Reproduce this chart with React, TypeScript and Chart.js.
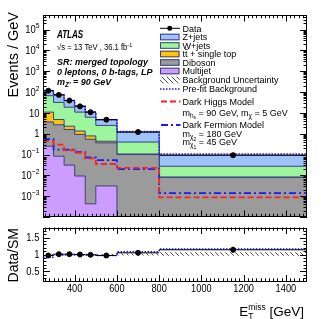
import React, { useEffect, useRef } from 'react';
import { Chart, registerables } from 'chart.js';
Chart.register(...registerables);

// ---------------- data ----------------
const binEdges = [250, 300, 350, 400, 450, 500, 600, 800, 1500];
const dataValues = [116, 73, 39, 20.5, 10.8, 4.7, 1.2, 0.093];
const dataRelErr = [0.012, 0.015, 0.02, 0.028, 0.04, 0.045, 0.06, 0.08];
const multijet = [0.25, 0.083, 0.031, 0.0093, 0.00043, 0.0031, 0, 0];
const diboson = [3.4, 2.6, 1.55, 0.92, 0.54, 0.36, 0.1, 0.008];
const ttbar = [7.2, 2.1, 0.7, 0.41, 0.24, 0.07, 0.006, 0.0003];
const wjets = [56, 27, 16.4, 9.5, 5.4, 2.07, 0.29, 0.019];
const zjets = [53, 43, 21, 10.2, 4.8, 2.3, 0.8, 0.066];
const prefitBkg = [108, 73, 39.2, 20.8, 10.9, 4.7, 1.28, 0.107];
const darkHiggs = [0.45, 0.3, 0.16, 0.12, 0.065, 0.035, 0.023, 0.00088];
const darkFermion = [0.55, 0.17, 0.17, 0.13, 0.072, 0.054, 0.02, 0.0014];
const ratioData = [0.97, 1.01, 1.01, 1.0, 0.99, 0.97, 1.05, 1.14];
const ratioPrefit = [0.92, 0.985, 0.985, 0.985, 0.985, 0.97, 1.08, 1.16];
const uncLow = [0.98, 0.98, 0.98, 0.98, 0.98, 0.975, 0.97, 0.96];
const uncHigh = [1.02, 1.02, 1.02, 1.02, 1.02, 1.025, 1.03, 1.07];
const xTickValues = [400, 600, 800, 1000, 1200, 1400];
const yDecades = [-3, -2, -1, 0, 1, 2, 3, 4, 5];
const ratioTickValues = [0.5, 1, 1.5];

// ---------------- styling ----------------
const FONT = '"Liberation Sans", Arial, Helvetica, sans-serif';
const stackColors = ['#cc9dff', '#9b9b9b', '#ffc20e', '#9df59d', '#9dc3f8'];
const stackBorder = '#38407c';
const LOG_FLOOR = 1e-6;

type Part = { t: string; s: number; dy?: number; b?: boolean; i?: boolean };
const fontOf = (p: Part) => `${p.i ? 'italic ' : ''}${p.b ? 'bold ' : ''}${p.s}px ${FONT}`;

function drawParts(ctx: CanvasRenderingContext2D, parts: Part[], x: number, y: number, align: 'left' | 'right' | 'center', sx = 1) {
  ctx.save();
  ctx.textAlign = 'left';
  ctx.textBaseline = 'alphabetic';
  ctx.fillStyle = '#000';
  let w = 0;
  for (const p of parts) { ctx.font = fontOf(p); w += ctx.measureText(p.t).width; }
  const x0 = align === 'left' ? x : align === 'right' ? x - w * sx : x - (w * sx) / 2;
  ctx.translate(x0, y);
  ctx.scale(sx, 1);
  let cx = 0;
  for (const p of parts) { ctx.font = fontOf(p); ctx.fillText(p.t, cx, p.dy || 0); cx += ctx.measureText(p.t).width; }
  ctx.restore();
  return w * sx;
}

function seg(ctx: CanvasRenderingContext2D, x1: number, y1: number, x2: number, y2: number) {
  ctx.beginPath(); ctx.moveTo(x1, y1); ctx.lineTo(x2, y2); ctx.stroke();
}

const steps = (v: number[], floor = 0) =>
  binEdges.map((x, i) => ({ x, y: Math.max(v[Math.min(i, v.length - 1)], floor) }));

const centers = binEdges.slice(0, -1).map((e, i) => (e + binEdges[i + 1]) / 2);

function makeHatch(): CanvasPattern | string {
  const pc = document.createElement('canvas');
  pc.width = 5; pc.height = 5;
  const c = pc.getContext('2d');
  if (!c) return 'rgba(0,0,0,0.3)';
  c.strokeStyle = '#222';
  c.lineWidth = 0.8;
  c.beginPath();
  c.moveTo(-1, -1); c.lineTo(6, 6);
  c.moveTo(-1, 4); c.lineTo(1, 6);
  c.moveTo(4, -1); c.lineTo(6, 1);
  c.stroke();
  const p = c.createPattern(pc, 'repeat');
  return p || 'rgba(0,0,0,0.3)';
}

function drawXTicks(ctx: CanvasRenderingContext2D, xs: any, a: any) {
  for (let v = 260; v < 1500; v += 20) {
    const px = Math.round(xs.getPixelForValue(v)) + 0.5;
    const len = v % 200 === 0 ? 6.5 : 3.2;
    seg(ctx, px, a.bottom, px, a.bottom - len);
    seg(ctx, px, a.top, px, a.top + len);
  }
}

function drawErrorBars(ctx: CanvasRenderingContext2D, xs: any, ys: any, vals: number[], errs: number[]) {
  ctx.save();
  ctx.strokeStyle = '#000';
  ctx.lineWidth = 1;
  vals.forEach((v, i) => {
    const py = ys.getPixelForValue(v);
    seg(ctx, xs.getPixelForValue(binEdges[i]), py, xs.getPixelForValue(binEdges[i + 1]), py);
    const px = xs.getPixelForValue(centers[i]);
    seg(ctx, px, ys.getPixelForValue(v * (1 + errs[i])), px, ys.getPixelForValue(v * (1 - errs[i])));
  });
  ctx.restore();
}

export default function App() {
  const mainRef = useRef<HTMLCanvasElement>(null);
  const ratioRef = useRef<HTMLCanvasElement>(null);

  useEffect(() => {
    if (!mainRef.current || !ratioRef.current) return;
    const hatch = makeHatch();

    // stacked cumulative layers (bottom -> top)
    const layers = [multijet, diboson, ttbar, wjets, zjets];
    const cum: number[][] = [];
    let run = new Array(dataValues.length).fill(0);
    layers.forEach((l) => { run = run.map((r, i) => r + l[i]); cum.push(run); });

    const stackDatasets = cum.map((c, k) => ({
      label: ['Multijet', 'Diboson', 'ttbar', 'W+jets', 'Z+jets'][k],
      data: steps(c, LOG_FLOOR),
      stepped: 'before' as const,
      fill: k === 0 ? 'start' : '-1',
      backgroundColor: stackColors[k],
      borderColor: stackBorder,
      borderWidth: 1,
      pointRadius: 0,
      order: 10 + k,
    }));

    const mainPlugin = {
      id: 'mainDecor',
      afterDatasetsDraw(chart: any) {
        const { ctx, scales } = chart;
        drawErrorBars(ctx, scales.x, scales.y, dataValues, dataRelErr);
      },
      afterDraw(chart: any) {
        const { ctx, chartArea: a, scales } = chart;
        const xs = scales.x, ys = scales.y;
        ctx.save();
        ctx.strokeStyle = '#000';
        ctx.lineWidth = 1;
        ctx.strokeRect(Math.round(a.left) + 0.5, Math.round(a.top) + 0.5, Math.round(a.right - a.left) - 1, Math.round(a.bottom - a.top) - 1);
        drawXTicks(ctx, xs, a);
        for (let d = -4; d <= 5; d++) {
          for (let k = 1; k <= 9; k++) {
            const v = k * Math.pow(10, d);
            if (v < ys.min || v > ys.max) continue;
            const py = Math.round(ys.getPixelForValue(v)) + 0.5;
            const len = k === 1 ? 7 : 3.5;
            seg(ctx, a.left, py, a.left + len, py);
            seg(ctx, a.right, py, a.right - len, py);
          }
        }
        // y tick labels
        yDecades.forEach((d) => {
          const py = ys.getPixelForValue(Math.pow(10, d));
          const base = py + 3.7;
          if (d === 0) drawParts(ctx, [{ t: '1', s: 10.5 }], 39.5, base, 'right', 0.9);
          else if (d === 1) drawParts(ctx, [{ t: '10', s: 10.5 }], 39.5, base, 'right', 0.9);
          else drawParts(ctx, [{ t: '10', s: 10.5 }, { t: d < 0 ? '\u2212' + Math.abs(d) : String(d), s: 7.5, dy: -5 }], 39.5, base, 'right', 0.9);
        });
        // y title
        ctx.save();
        ctx.translate(18, 12);
        ctx.rotate(-Math.PI / 2);
        drawParts(ctx, [{ t: 'Events / GeV', s: 14.5 }], 0, 0, 'right');
        ctx.restore();

        // ATLAS labels
        drawParts(ctx, [{ t: 'ATLAS', s: 11, b: true, i: true }], 57, 37.5, 'left', 0.73);
        drawParts(ctx, [{ t: '\u221As = 13 TeV , 36.1 fb', s: 8.5 }, { t: '-1', s: 6, dy: -3.5 }], 57, 50.3, 'left', 0.9);
        drawParts(ctx, [{ t: 'SR: merged topology', s: 9, b: true, i: true }], 57, 64.6, 'left');
        drawParts(ctx, [{ t: '0 leptons, 0 b-tags, LP', s: 9, b: true, i: true }], 57, 74.6, 'left');
        drawParts(ctx, [{ t: 'm', s: 9, b: true, i: true }, { t: "Z'", s: 6.5, b: true, i: true, dy: 2.2 }, { t: ' = 90 GeV', s: 9, b: true, i: true }], 57, 84.6, 'left');

        // legend
        const LX0 = 160, LX1 = 179.5, LTX = 182.5, LF = 9;
        const txt = (parts: Part[], yc: number) => drawParts(ctx, parts, LTX, yc + LF * 0.36, 'left');
        const box = (color: string | CanvasPattern, yc: number, border = true) => {
          ctx.fillStyle = color as any;
          ctx.fillRect(LX0, yc - 3.3, LX1 - LX0, 6.6);
          if (border) {
            ctx.strokeStyle = stackBorder;
            ctx.lineWidth = 1;
            ctx.strokeRect(LX0 + 0.5, yc - 3.3 + 0.5, LX1 - LX0 - 1, 6.6 - 1);
          }
        };
        // Data
        let yc = 28.3;
        ctx.strokeStyle = '#000'; ctx.lineWidth = 1;
        seg(ctx, LX0, yc, LX1 + 0.5, yc);
        ctx.fillStyle = '#000';
        ctx.beginPath(); ctx.arc((LX0 + LX1) / 2, yc, 2.5, 0, Math.PI * 2); ctx.fill();
        txt([{ t: 'Data', s: LF }], yc);
        const boxes: [string, number, string][] = [
          [stackColors[4], 37, 'Z+jets'],
          [stackColors[3], 45.5, 'W+jets'],
          [stackColors[2], 54, 'tt + single top'],
          [stackColors[1], 62.5, 'Diboson'],
          [stackColors[0], 71, 'Multijet'],
        ];
        boxes.forEach(([c, y, label]) => { box(c, y); txt([{ t: label, s: LF }], y); });
        // bar over the second t of "tt"
        ctx.font = `${LF}px ${FONT}`;
        const tw = ctx.measureText('t').width;
        ctx.strokeStyle = '#000'; ctx.lineWidth = 0.8;
        seg(ctx, LTX + tw, 54 - 4.6, LTX + 2 * tw + 0.3, 54 - 4.6);
        // Background uncertainty
        box(hatch, 80, false);
        txt([{ t: 'Background Uncertainty', s: LF }], 80);
        // Pre-fit
        ctx.save();
        ctx.strokeStyle = '#1515ff'; ctx.lineWidth = 1.5; ctx.setLineDash([1.5, 1.5]);
        seg(ctx, LX0, 89, LX1 + 0.5, 89);
        ctx.restore();
        txt([{ t: 'Pre-fit Background', s: LF }], 89);
        // Dark Higgs
        ctx.save();
        ctx.strokeStyle = '#ff2020'; ctx.lineWidth = 1.8; ctx.setLineDash([6, 3]);
        seg(ctx, LX0 + 1, 101.5, LX1 + 1, 101.5);
        ctx.restore();
        txt([{ t: 'Dark Higgs Model', s: LF }], 101.5);
        txt([
          { t: 'm', s: LF }, { t: 'h', s: 6.5, dy: 2 }, { t: 's', s: 5, dy: 3.6 },
          { t: ' = 90 GeV, m', s: LF }, { t: '\u03C7', s: 6.5, dy: 2 }, { t: ' = 5 GeV', s: LF },
        ], 112.5);
        // Dark Fermion
        ctx.save();
        ctx.strokeStyle = '#1a1aff'; ctx.lineWidth = 1.8; ctx.setLineDash([7, 3, 2, 3]);
        seg(ctx, LX0 + 1, 125, LX1 + 1, 125);
        ctx.restore();
        txt([{ t: 'Dark Fermion Model', s: LF }], 125);
        txt([{ t: 'm', s: LF }, { t: '\u03C7', s: 6.5, dy: 2 }, { t: '2', s: 5, dy: 3.6 }, { t: ' = 180 GeV', s: LF }], 134);
        txt([{ t: 'm', s: LF }, { t: '\u03C7', s: 6.5, dy: 2 }, { t: '1', s: 5, dy: 3.6 }, { t: ' = 45 GeV', s: LF }], 142.2);
        ctx.restore();
      },
    };

    const main = new Chart(mainRef.current, {
      type: 'line',
      data: {
        datasets: [
          ...stackDatasets,
          {
            label: 'Pre-fit Background', data: steps(prefitBkg, LOG_FLOOR), stepped: 'before',
            fill: false, borderColor: '#1515ff', borderWidth: 1.5, borderDash: [1.5, 1.5], pointRadius: 0, order: 3,
          },
          {
            label: 'Dark Fermion', data: steps(darkFermion, LOG_FLOOR), stepped: 'before',
            fill: false, borderColor: '#1a1aff', borderWidth: 1.8, borderDash: [7, 3, 2, 3], pointRadius: 0, order: 2,
          },
          {
            label: 'Dark Higgs', data: steps(darkHiggs, LOG_FLOOR), stepped: 'before',
            fill: false, borderColor: '#ff2020', borderWidth: 1.8, borderDash: [6, 3], pointRadius: 0, order: 1,
          },
          {
            label: 'Data', data: centers.map((x, i) => ({ x, y: dataValues[i] })), showLine: false,
            pointRadius: 2.5, pointBackgroundColor: '#000', pointBorderColor: '#000', borderColor: '#000', order: 0,
          },
        ] as any,
      },
      options: {
        responsive: false,
        animation: false,
        events: [],
        layout: { padding: { left: 43, right: 25, top: 15, bottom: 3 } },
        plugins: { legend: { display: false }, tooltip: { enabled: false } },
        scales: {
          x: { type: 'linear', min: 250, max: 1500, display: false },
          y: { type: 'logarithmic', min: 1e-4, max: 5e5, display: false },
        },
      },
      plugins: [mainPlugin],
    });

    const ratioPlugin = {
      id: 'ratioDecor',
      afterDatasetsDraw(chart: any) {
        const { ctx, scales } = chart;
        drawErrorBars(ctx, scales.x, scales.y, ratioData, dataRelErr);
      },
      afterDraw(chart: any) {
        const { ctx, chartArea: a, scales } = chart;
        const xs = scales.x, ys = scales.y;
        ctx.save();
        ctx.strokeStyle = '#000';
        ctx.lineWidth = 1;
        ctx.strokeRect(Math.round(a.left) + 0.5, Math.round(a.top) + 0.5, Math.round(a.right - a.left) - 1, Math.round(a.bottom - a.top) - 1);
        drawXTicks(ctx, xs, a);
        for (let i = 3; i <= 17; i++) {
          const v = i / 10;
          const py = Math.round(ys.getPixelForValue(v)) + 0.5;
          const len = i % 5 === 0 ? 7 : 3.5;
          seg(ctx, a.left, py, a.left + len, py);
          seg(ctx, a.right, py, a.right - len, py);
        }
        ratioTickValues.forEach((v) => {
          drawParts(ctx, [{ t: String(v), s: 10.5 }], 39.5, ys.getPixelForValue(v) + 3.7, 'right', 0.9);
        });
        xTickValues.forEach((v) => {
          drawParts(ctx, [{ t: String(v), s: 10.5 }], xs.getPixelForValue(v), a.bottom + 10.5, 'center', 0.88);
        });
        // y title
        ctx.save();
        ctx.translate(18, a.top + 0.5);
        ctx.rotate(-Math.PI / 2);
        drawParts(ctx, [{ t: 'Data/SM', s: 14 }], 0, 0, 'right');
        ctx.restore();
        // x title
        const xr = 304;
        ctx.font = `13.5px ${FONT}`;
        const wGeV = ctx.measureText(' [GeV]').width;
        ctx.font = `8.5px ${FONT}`;
        const wMiss = ctx.measureText('miss').width;
        ctx.font = `13.5px ${FONT}`;
        const wE = ctx.measureText('E').width;
        const xStart = xr - wGeV - wMiss - wE;
        const yb = a.bottom + 34.5;
        drawParts(ctx, [{ t: 'E', s: 13.5 }], xStart, yb, 'left');
        drawParts(ctx, [{ t: 'miss', s: 8.5 }], xStart + wE, yb - 6, 'left');
        drawParts(ctx, [{ t: 'T', s: 8.5 }], xStart + wE, yb + 3, 'left');
        drawParts(ctx, [{ t: ' [GeV]', s: 13.5 }], xStart + wE + wMiss, yb, 'left');
        ctx.restore();
      },
    };

    const ratio = new Chart(ratioRef.current, {
      type: 'line',
      data: {
        datasets: [
          {
            label: 'unc high', data: steps(uncHigh), stepped: 'before', fill: '+1',
            backgroundColor: hatch as any, borderColor: 'rgba(0,0,0,0)', borderWidth: 0, pointRadius: 0, order: 2,
          },
          {
            label: 'unc low', data: steps(uncLow), stepped: 'before', fill: false,
            borderColor: 'rgba(0,0,0,0)', borderWidth: 0, pointRadius: 0, order: 3,
          },
          {
            label: 'prefit ratio', data: steps(ratioPrefit), stepped: 'before', fill: false,
            borderColor: '#1515ff', borderWidth: 1.5, borderDash: [1.5, 1.5], pointRadius: 0, order: 1,
          },
          {
            label: 'data ratio', data: centers.map((x, i) => ({ x, y: ratioData[i] })), showLine: false,
            pointRadius: 2.5, pointBackgroundColor: '#000', pointBorderColor: '#000', borderColor: '#000', order: 0,
          },
        ] as any,
      },
      options: {
        responsive: false,
        animation: false,
        events: [],
        layout: { padding: { left: 43, right: 25, top: 5.5, bottom: 37.5 } },
        plugins: { legend: { display: false }, tooltip: { enabled: false } },
        scales: {
          x: { type: 'linear', min: 250, max: 1500, display: false },
          y: { type: 'linear', min: 0.2, max: 1.8, display: false },
        },
      },
      plugins: [ratioPlugin],
    });

    return () => { main.destroy(); ratio.destroy(); };
  }, []);

  return (
    <div style={{ position: 'absolute', left: 0, top: 0, width: 332, height: 319, background: '#fff' }}>
      <canvas ref={mainRef} width={332} height={222} style={{ position: 'absolute', left: 0, top: 0, width: 332, height: 222 }} />
      <canvas ref={ratioRef} width={332} height={97} style={{ position: 'absolute', left: 0, top: 222, width: 332, height: 97 }} />
    </div>
  );
}
